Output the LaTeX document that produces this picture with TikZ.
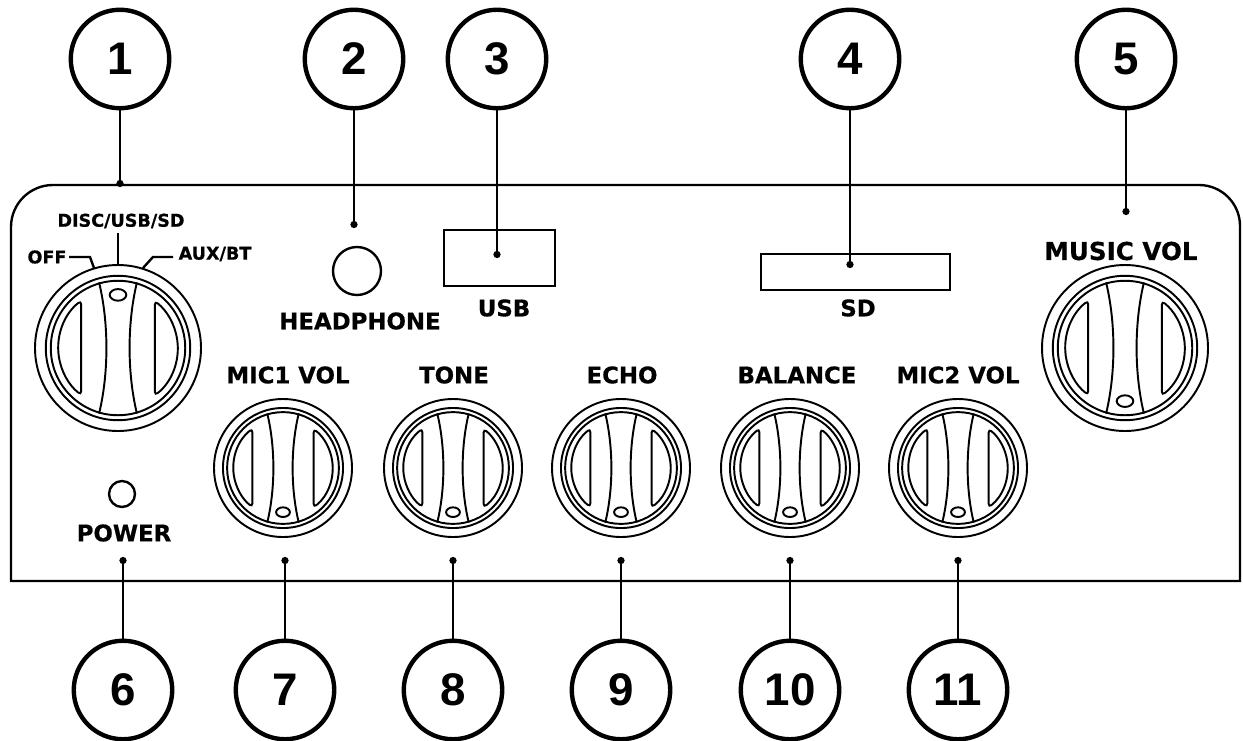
\documentclass[tikz,border=0pt]{standalone}
\usepackage{fontspec}
\setmainfont{Liberation Sans}
\newfontfamily\panelfont{DejaVu Sans}[BoldFeatures = {FakeBold = 0.6}]
\usetikzlibrary{arrows.meta}
\tikzset{
    numcircle/.style = {circle, draw, line width = 2.5pt, inner sep = 0pt, minimum size = 1.97cm,
        font = \fontsize{26}{26}\selectfont\bfseries},
    leader/.style = {line width = 1.6pt, -{Circle[length = 4pt]}},
    panelline/.style = {line width = 1.35pt},
    knobline/.style = {line width = 1.1pt},
    biglabel/.style = {font = \panelfont\fontsize{13}{13}\selectfont\bfseries, inner sep = 0pt},
    smalllabel/.style = {font = \panelfont\fontsize{10}{10}\selectfont\bfseries, inner sep = 0pt},
    musiclabel/.style = {font = \panelfont\fontsize{14}{14}\selectfont\bfseries, inner sep = 0pt}
}
% x, y, radius, rotation
\newcommand{\knob}[4]{
    \begin{scope}[shift = {(#1, #2)}, scale = #3, rotate = #4, knobline]
        \draw (0, 0) circle (1);
        \draw (0, 0) circle (0.87);
        \draw (0, 0) circle (0.81);
        \draw (-0.228, -0.79) .. controls (-0.11, -0.3) and (-0.11, 0.3) .. (-0.228, 0.79);
        \draw (0.228, -0.79) .. controls (0.11, -0.3) and (0.11, 0.3) .. (0.228, 0.79);
        \draw [rounded corners = 2pt] (-0.444, 0) -- (-0.444, -0.57)
            arc [start angle = 232, end angle = 128, radius = 0.72] -- cycle;
        \draw [rounded corners = 2pt] (0.444, 0) -- (0.444, 0.57)
            arc [start angle = 52, end angle = -52, radius = 0.72] -- cycle;
        \draw (0, -0.64) ellipse [x radius = 0.1, y radius = 0.07];
    \end{scope}
}
\begin{document}
\begin{tikzpicture}[x = 0.02cm, y = -0.02cm]
    \useasboundingbox (0, 0) rectangle (1243, 740);
    % panel
    \draw [panelline] (11, 581) -- (11, 227) arc [start angle = 180, end angle = 270, radius = 42]
        -- (1199, 185) arc [start angle = 270, end angle = 360, radius = 41] -- (1240, 581) -- cycle;
    % knobs
    \knob{118}{348}{83}{0}
    \knob{1125}{348}{83}{180}
    \knob{283}{468}{69}{180}
    \knob{453}{468}{69}{180}
    \knob{621}{468}{69}{180}
    \knob{790}{468}{69}{180}
    \knob{958}{468}{69}{180}
    % selector marks
    \coordinate (offa) at (69, 257);
    \coordinate (offb) at (90, 257);
    \coordinate (offc) at (94, 268);
    \coordinate (disca) at (118, 233);
    \coordinate (discb) at (118, 264);
    \coordinate (auxa) at (173, 257);
    \coordinate (auxb) at (153, 257);
    \coordinate (auxc) at (143, 268);
    \draw [panelline] (offa) -- (offb) -- (offc);
    \draw [panelline] (disca) -- (discb);
    \draw [panelline] (auxa) -- (auxb) -- (auxc);
    % sockets
    \node [circle, draw, panelline, inner sep = 0pt, minimum size = 0.96cm] (phone) at (357, 271) {};
    \node [circle, draw, panelline, inner sep = 0pt, minimum size = 0.52cm] (led) at (122, 494) {};
    \node [draw, panelline, inner sep = 0pt, minimum width = 2.22cm, minimum height = 1.12cm] (usb) at (499.5, 258) {};
    \node [draw, panelline, inner sep = 0pt, minimum width = 3.78cm, minimum height = 0.72cm] (sd) at (855.5, 272) {};
    % labels
    \node [smalllabel] (lbldisc) at (121, 221) {DISC/USB/SD};
    \node [smalllabel] (lbloff) at (47, 257) {OFF};
    \node [smalllabel] (lblaux) at (215, 254) {AUX/BT};
    \node [biglabel] (lblphone) at (360, 321) {HEADPHONE};
    \node [biglabel] (lblusb) at (504, 308) {USB};
    \node [biglabel] (lblsd) at (858, 308) {SD};
    \node [musiclabel] (lblmusic) at (1121, 251) {MUSIC VOL};
    \node [biglabel] (lblmica) at (288, 375) {MIC1 VOL};
    \node [biglabel] (lbltone) at (454, 375) {TONE};
    \node [biglabel] (lblecho) at (622, 375) {ECHO};
    \node [biglabel] (lblbal) at (797, 375) {BALANCE};
    \node [biglabel] (lblmicb) at (958, 375) {MIC2 VOL};
    \node [biglabel] (lblpower) at (124, 533) {POWER};
    % numbers
    \node [numcircle] (num1) at (120, 59) {1};
    \node [numcircle] (num2) at (354, 59) {2};
    \node [numcircle] (num3) at (497, 59) {3};
    \node [numcircle] (num4) at (850, 59) {4};
    \node [numcircle] (num5) at (1126, 59) {5};
    \node [numcircle] (num6) at (123, 690) {6};
    \node [numcircle] (num7) at (285, 690) {7};
    \node [numcircle] (num8) at (453, 690) {8};
    \node [numcircle] (num9) at (621, 690) {9};
    \node [numcircle] (num10) at (790, 690) {10};
    \node [numcircle] (num11) at (958, 690) {11};
    % leader ends
    \coordinate (end1) at (120, 187);
    \coordinate (end2) at (354, 228);
    \coordinate (end3) at (497, 258);
    \coordinate (end4) at (850, 268);
    \coordinate (end5) at (1126, 215);
    \coordinate (end6) at (123, 557);
    \coordinate (end7) at (285, 557);
    \coordinate (end8) at (453, 557);
    \coordinate (end9) at (621, 557);
    \coordinate (end10) at (790, 557);
    \coordinate (end11) at (958, 557);
    \draw [leader] (num1) -- (end1);
    \draw [leader] (num2) -- (end2);
    \draw [leader] (num3) -- (end3);
    \draw [leader] (num4) -- (end4);
    \draw [leader] (num5) -- (end5);
    \draw [leader] (num6) -- (end6);
    \draw [leader] (num7) -- (end7);
    \draw [leader] (num8) -- (end8);
    \draw [leader] (num9) -- (end9);
    \draw [leader] (num10) -- (end10);
    \draw [leader] (num11) -- (end11);
\end{tikzpicture}
\end{document}
